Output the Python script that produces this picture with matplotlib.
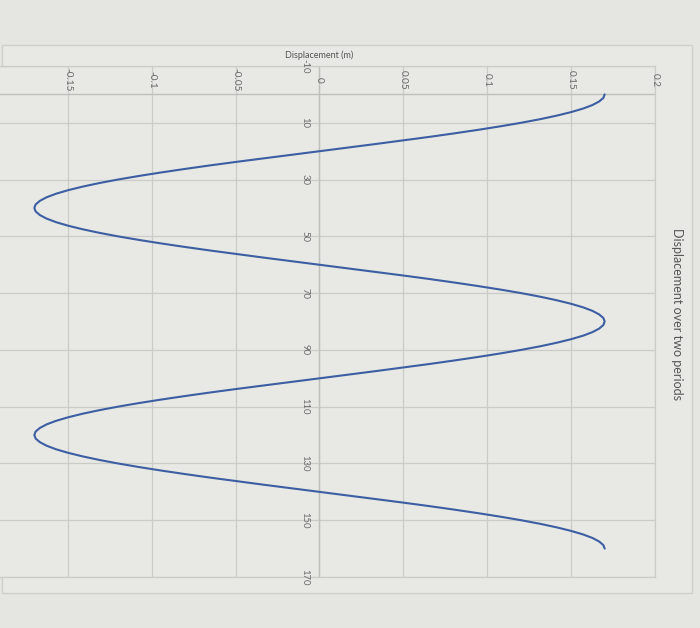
import matplotlib
matplotlib.use("Agg")
import matplotlib.pyplot as plt
from matplotlib.patches import Rectangle

plt.rcParams['font.family'] = ['Lato', 'DejaVu Sans']

# Data (time in s, displacement in m)
time = [0, 1.25, 2.5, 3.75, 5, 6.25, 7.5, 8.75, 10, 11.25, 12.5, 13.75, 15, 16.25, 17.5, 18.75,
        20, 21.25, 22.5, 23.75, 25, 26.25, 27.5, 28.75, 30, 31.25, 32.5, 33.75, 35, 36.25, 37.5, 38.75,
        40, 41.25, 42.5, 43.75, 45, 46.25, 47.5, 48.75, 50, 51.25, 52.5, 53.75, 55, 56.25, 57.5, 58.75,
        60, 61.25, 62.5, 63.75, 65, 66.25, 67.5, 68.75, 70, 71.25, 72.5, 73.75, 75, 76.25, 77.5, 78.75,
        80, 81.25, 82.5, 83.75, 85, 86.25, 87.5, 88.75, 90, 91.25, 92.5, 93.75, 95, 96.25, 97.5, 98.75,
        100, 101.25, 102.5, 103.75, 105, 106.25, 107.5, 108.75, 110, 111.25, 112.5, 113.75, 115, 116.25, 117.5, 118.75,
        120, 121.25, 122.5, 123.75, 125, 126.25, 127.5, 128.75, 130, 131.25, 132.5, 133.75, 135, 136.25, 137.5, 138.75,
        140, 141.25, 142.5, 143.75, 145, 146.25, 147.5, 148.75, 150, 151.25, 152.5, 153.75, 155, 156.25, 157.5, 158.75,
        160]
displacement = [
    0.1700, 0.1692, 0.1667, 0.1627, 0.1571, 0.1499, 0.1413, 0.1314, 0.1202, 0.1078, 0.0944, 0.0801, 0.0651, 0.0493, 0.0332, 0.0167,
    0.0000, -0.0167, -0.0332, -0.0493, -0.0651, -0.0801, -0.0944, -0.1078, -0.1202, -0.1314, -0.1413, -0.1499, -0.1571, -0.1627, -0.1667, -0.1692,
    -0.1700, -0.1692, -0.1667, -0.1627, -0.1571, -0.1499, -0.1413, -0.1314, -0.1202, -0.1078, -0.0944, -0.0801, -0.0651, -0.0493, -0.0332, -0.0167,
    0.0000, 0.0167, 0.0332, 0.0493, 0.0651, 0.0801, 0.0944, 0.1078, 0.1202, 0.1314, 0.1413, 0.1499, 0.1571, 0.1627, 0.1667, 0.1692,
    0.1700, 0.1692, 0.1667, 0.1627, 0.1571, 0.1499, 0.1413, 0.1314, 0.1202, 0.1078, 0.0944, 0.0801, 0.0651, 0.0493, 0.0332, 0.0167,
    0.0000, -0.0167, -0.0332, -0.0493, -0.0651, -0.0801, -0.0944, -0.1078, -0.1202, -0.1314, -0.1413, -0.1499, -0.1571, -0.1627, -0.1667, -0.1692,
    -0.1700, -0.1692, -0.1667, -0.1627, -0.1571, -0.1499, -0.1413, -0.1314, -0.1202, -0.1078, -0.0944, -0.0801, -0.0651, -0.0493, -0.0332, -0.0167,
    0.0000, 0.0167, 0.0332, 0.0493, 0.0651, 0.0801, 0.0944, 0.1078, 0.1202, 0.1314, 0.1413, 0.1499, 0.1571, 0.1627, 0.1667, 0.1692,
    0.1700]

disp_ticks = [-0.15, -0.1, -0.05, 0, 0.05, 0.1, 0.15, 0.2]
disp_labels = ["-0.15", "-0.1", "-0.05", "0", "0.05", "0.1", "0.15", "0.2"]
time_ticks = [-10, 10, 30, 50, 70, 90, 110, 130, 150, 170]
time_labels = ["-10", "10", "30", "50", "70", "90", "110", "130", "150", "170"]

title = "Displacement over two periods"
axis_title = "Displacement (m)"

W, H = 700, 628
bg = '#e5e6e2'
txt = '#6a6a6a'
grid = '#cbccc8'

fig = plt.figure(figsize=(W / 100, H / 100), dpi=100, facecolor=bg)

# chart area border (behind everything)
fig.patches.append(Rectangle((2 / W, 1 - 593 / H), (692 - 2) / W, (593 - 45) / H,
                             transform=fig.transFigure, facecolor='#e8e9e5',
                             edgecolor='#cfd0cc', lw=1.0, zorder=-10))

# plot area: displacement -0.2 at -16 px .. 0.2 at 655 px ; time -10 at 66 px .. 170 at 577 px
left_px, right_px, top_px, bot_px = -16, 655, 66, 577
ax = fig.add_axes([left_px / W, 1 - bot_px / H, (right_px - left_px) / W, (bot_px - top_px) / H])
ax.set_zorder(1)
ax.set_facecolor('#e8e9e5')
ax.set_xlim(-0.2, 0.2)
ax.set_ylim(170, -10)

ax.set_xticks(disp_ticks)
ax.set_yticks(time_ticks)
ax.tick_params(left=False, bottom=False, labelleft=False, labelbottom=False)
ax.grid(True, color=grid, lw=0.9)
ax.set_axisbelow(True)
for s in ax.spines.values():
    s.set_color(grid)
    s.set_linewidth(0.9)

# axis lines crossing at zero
ax.axhline(0, color='#bfc0bc', lw=1.0, zorder=1)
ax.axvline(0, color='#bfc0bc', lw=1.0, zorder=1)

ax.plot(displacement, time, color='#3d5ea3', lw=1.5, solid_capstyle='round',
        solid_joinstyle='round', zorder=3)

# displacement tick labels (rotated, just before the t=0 axis line)
for v, lab in zip(disp_ticks, disp_labels):
    ax.text(v, -5, lab, rotation=-90, ha='center', va='center', fontsize=7.2,
            color=txt, clip_on=False)

# time tick labels next to the zero displacement line
for v, lab in zip(time_ticks, time_labels):
    ax.text(-0.0085, v, lab, rotation=-90, ha='center', va='center', fontsize=6.8,
            color=txt, clip_on=False)

ax.text(0, -13.9, axis_title, ha='center', va='center', fontsize=6.5, color='#555555',
        clip_on=False)

fig.text(677 / W, 1 - 314 / H, title, rotation=-90, ha='center', va='center',
         fontsize=9, color='#555555')

fig.savefig("out.png", dpi=100, facecolor=bg)
